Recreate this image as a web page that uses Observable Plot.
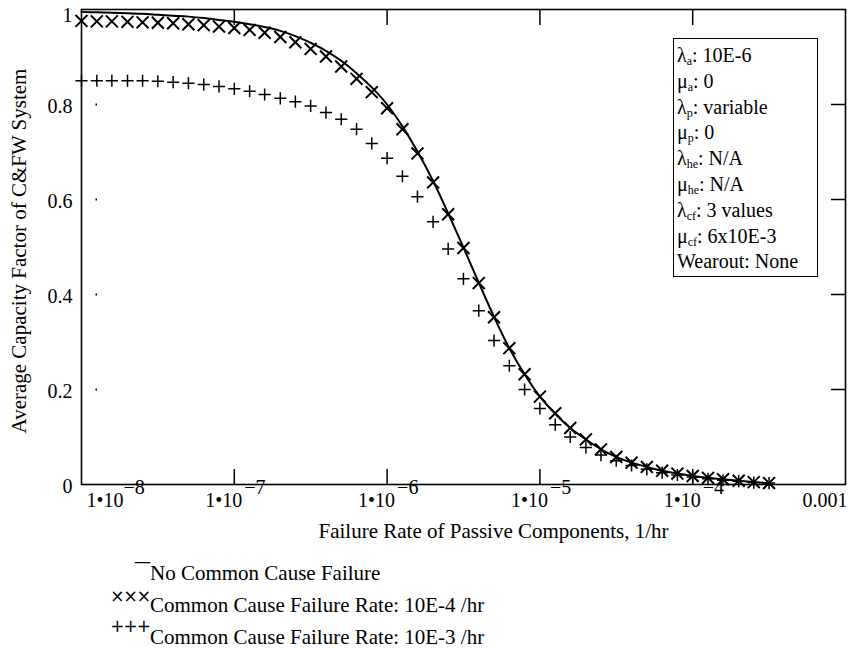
<!DOCTYPE html>
<html><head><meta charset="utf-8">
<script src="https://cdn.jsdelivr.net/npm/d3@7"></script>
<script src="https://cdn.jsdelivr.net/npm/@observablehq/plot@0.6"></script>
<style>
body{margin:0;background:#fff;font-family:"Liberation Serif","Times New Roman",serif;color:#000;}
#wrap{position:relative;width:851px;height:648px;overflow:hidden;}
#params{position:absolute;left:673px;top:38px;width:145px;height:239px;border:1px solid #000;background:#fff;font-size:20px;line-height:25.8px;padding:4px 0 0 3px;box-sizing:border-box;white-space:nowrap;}
#params sub{font-size:12px;vertical-align:-3px;line-height:0;}
.sym{position:absolute;width:50px;text-align:right;font-size:17px;line-height:20px;font-family:"DejaVu Sans",sans-serif;letter-spacing:-1px;}
.ltxt{position:absolute;left:150px;font-size:21px;line-height:32px;white-space:nowrap;}
</style>
</head><body>
<div id="wrap"></div>
<script>
// x sample points (failure rate of passive components, 1/hr)
const xVals = [
  1e-8, 1.26e-8, 1.58e-8, 2e-8, 2.51e-8, 3.16e-8, 3.98e-8, 5.01e-8, 6.31e-8, 7.94e-8,
  1e-7, 1.26e-7, 1.58e-7, 2e-7, 2.51e-7, 3.16e-7, 3.98e-7, 5.01e-7, 6.31e-7, 7.94e-7,
  1e-6, 1.26e-6, 1.58e-6, 2e-6, 2.51e-6, 3.16e-6, 3.98e-6, 5.01e-6, 6.31e-6, 7.94e-6,
  1e-5, 1.26e-5, 1.58e-5, 2e-5, 2.51e-5, 3.16e-5, 3.98e-5, 5.01e-5, 6.31e-5, 7.94e-5,
  1e-4, 1.26e-4, 1.58e-4, 2e-4, 2.51e-4, 3.16e-4
];
// No Common Cause Failure (solid line)
const noCCF = [
  0.995, 0.994, 0.993, 0.992, 0.991, 0.989, 0.987, 0.985, 0.982, 0.978,
  0.974, 0.969, 0.963, 0.955, 0.944, 0.930, 0.913, 0.892, 0.866, 0.836,
  0.800, 0.754, 0.701, 0.639, 0.571, 0.499, 0.425, 0.353, 0.287, 0.232,
  0.185, 0.149, 0.119, 0.095, 0.074, 0.058, 0.046, 0.037, 0.029, 0.023,
  0.018, 0.014, 0.011, 0.008, 0.005, 0.003
];
// Common Cause Failure Rate 10E-4 /hr (x markers)
const ccf4 = [
  0.976, 0.975, 0.975, 0.974, 0.973, 0.972, 0.971, 0.969, 0.967, 0.964,
  0.961, 0.957, 0.951, 0.942, 0.931, 0.917, 0.901, 0.880, 0.854, 0.826,
  0.792, 0.748, 0.697, 0.636, 0.569, 0.498, 0.424, 0.352, 0.287, 0.232,
  0.185, 0.150, 0.119, 0.095, 0.074, 0.058, 0.046, 0.037, 0.029, 0.023,
  0.018, 0.014, 0.011, 0.008, 0.005, 0.003
];
// Common Cause Failure Rate 10E-3 /hr (+ markers)
const ccf3 = [
  0.850, 0.850, 0.850, 0.850, 0.850, 0.849, 0.847, 0.845, 0.842, 0.838,
  0.833, 0.828, 0.821, 0.813, 0.806, 0.797, 0.783, 0.769, 0.748, 0.718,
  0.687, 0.649, 0.606, 0.553, 0.496, 0.433, 0.366, 0.303, 0.250, 0.200,
  0.160, 0.126, 0.100, 0.078, 0.062, 0.050, 0.040, 0.032, 0.025, 0.020,
  0.016, 0.012, 0.009, 0.007, 0.004, 0.003
];
const xTickVals = [1e-8, 1e-7, 1e-6, 1e-5, 1e-4];
const xTickExps = ["\u22128", "\u22127", "\u22126", "\u22125", "\u22124"];
const xTickMantissa = "1\u202210";
const xEndTick = [{x: 1e-3, label: "0.001"}];
const xInnerTicks = [1e-7, 1e-6, 1e-5, 1e-4];
const yTickVals = [0, 0.2, 0.4, 0.6, 0.8, 1];
const yTickLabels = ["0", "0.2", "0.4", "0.6", "0.8", "1"];
const yInnerTicks = [0.2, 0.4, 0.6, 0.8];
const xTitle = "Failure Rate of Passive Components, 1/hr";
const yTitle = "Average Capacity Factor of C&FW System";
const legendItems = [
  {sym: "\u2014", text: "No Common Cause Failure"},
  {sym: "\u00d7\u00d7\u00d7", text: "Common Cause Failure Rate: 10E-4 /hr"},
  {sym: "+++", text: "Common Cause Failure Rate: 10E-3 /hr"}
];
const paramLines = [
  ["\u03bb", "a", ": 10E-6"],
  ["\u03bc", "a", ": 0"],
  ["\u03bb", "p", ": variable"],
  ["\u03bc", "p", ": 0"],
  ["\u03bb", "he", ": N/A"],
  ["\u03bc", "he", ": N/A"],
  ["\u03bb", "cf", ": 3 values"],
  ["\u03bc", "cf", ": 6x10E-3"],
  ["", "", "Wearout: None"]
];

const rows = xVals.map((x, i) => ({x, a: noCCF[i], b: ccf4[i], c: ccf3[i]}));

const chart = Plot.plot({
  width: 851,
  height: 555,
  marginLeft: 81,
  marginRight: 6,
  marginTop: 9,
  marginBottom: 71,
  style: {fontFamily: "'Liberation Serif', 'Times New Roman', serif", fontSize: "19px", background: "white", color: "black", overflow: "visible"},
  x: {type: "log", domain: [1e-8, 1e-3]},
  y: {domain: [0, 1]},
  marks: [
    // y tick labels (top one nudged inside, as in the original)
    Plot.text(yTickVals.slice(0, 5), {y: d => d, frameAnchor: "left", text: (d, i) => yTickLabels[i], textAnchor: "end", dx: -9, dy: 2, fontSize: 20}),
    Plot.text(yTickVals.slice(5), {y: d => d, frameAnchor: "left", text: () => yTickLabels[5], textAnchor: "end", dx: -9, dy: 6, fontSize: 20}),
    Plot.axisY({anchor: "left", ticks: yInnerTicks, tickSize: -16, tickFormat: () => "", label: null, strokeWidth: 2, strokeDasharray: "0 14.5 1.8 40"}),
    Plot.axisY({anchor: "right", ticks: yInnerTicks, tickSize: -15, tickFormat: () => "", label: null, strokeWidth: 1.5}),
    Plot.axisX({anchor: "top", ticks: xInnerTicks, tickSize: -15, tickFormat: () => "", label: null, strokeWidth: 1.5}),
    Plot.axisX({anchor: "bottom", ticks: xInnerTicks, tickSize: -15, tickFormat: () => "", label: null, strokeWidth: 1.5}),
    Plot.frame({stroke: "black", strokeWidth: 1.6}),
    // x tick labels: mantissa + raised exponent
    Plot.text(xTickVals.slice(0, 1), {x: d => d, frameAnchor: "bottom", text: () => xTickMantissa, textAnchor: "start", dx: 5, dy: 22, fontSize: 20}),
    Plot.text(xTickVals.slice(0, 1), {x: d => d, frameAnchor: "bottom", text: () => xTickExps[0], textAnchor: "start", dx: 42, dy: 9, fontSize: 20}),
    Plot.text(xTickVals.slice(1), {x: d => d, frameAnchor: "bottom", text: () => xTickMantissa, textAnchor: "end", dx: 8, dy: 22, fontSize: 20}),
    Plot.text(xTickVals.slice(1), {x: d => d, frameAnchor: "bottom", text: (d, i) => xTickExps[i + 1], textAnchor: "start", dx: 10, dy: 9, fontSize: 20}),
    Plot.text(xEndTick, {x: "x", frameAnchor: "bottom", text: "label", textAnchor: "end", dx: 2, dy: 22, fontSize: 20}),
    // axis titles
    Plot.text([xTitle], {frameAnchor: "bottom", text: d => d, dy: 53, dx: 30, fontSize: 21}),
    Plot.text([yTitle], {frameAnchor: "left", text: d => d, rotate: -90, textAnchor: "middle", dx: -62, dy: 4, fontSize: 21}),
    // data
    Plot.line(rows, {x: "x", y: "a", stroke: "black", strokeWidth: 2, curve: "catmull-rom"}),
    Plot.dot(rows, {x: "x", y: "b", symbol: "times", r: 5.5, stroke: "black", strokeWidth: 2}),
    Plot.dot(rows, {x: "x", y: "c", symbol: "plus", r: 4, stroke: "black", strokeWidth: 1.5})
  ]
});

const wrap = document.getElementById("wrap");
wrap.appendChild(chart);

// parameter box
const box = document.createElement("div");
box.id = "params";
box.innerHTML = paramLines.map(([g, s, t]) => `<div>${g}${s ? `<sub>${s}</sub>` : ""}${t}</div>`).join("");
wrap.appendChild(box);

// legend below the plot
const legTops = [557, 589, 621];
const symTops = [551, 586, 616];
legendItems.forEach((item, i) => {
  const s = document.createElement("div");
  s.className = "sym";
  s.style.left = "100px";
  s.style.top = symTops[i] + "px";
  s.textContent = item.sym;
  wrap.appendChild(s);
  const t = document.createElement("div");
  t.className = "ltxt";
  t.style.top = legTops[i] + "px";
  t.textContent = item.text;
  wrap.appendChild(t);
});
</script>
</body></html>
